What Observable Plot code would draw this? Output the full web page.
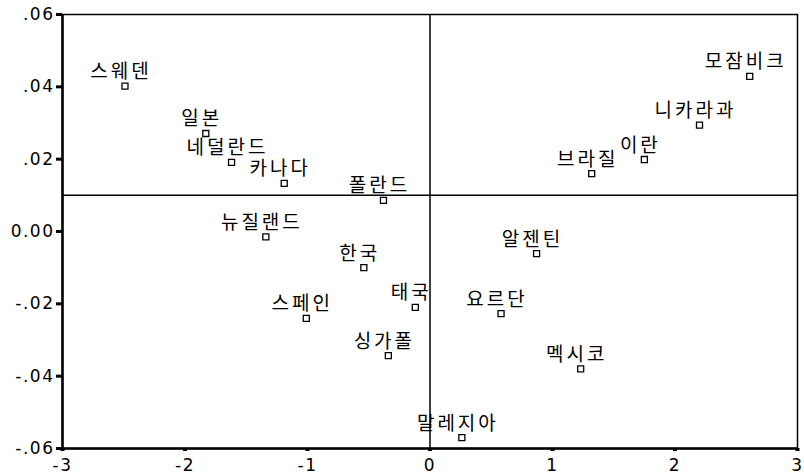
<!DOCTYPE html>
<html>
<head>
<meta charset="utf-8">
<script src="https://cdn.jsdelivr.net/npm/d3@7"></script>
<script src="https://cdn.jsdelivr.net/npm/@observablehq/plot@0.6"></script>
<style>
  html, body { margin: 0; padding: 0; background: #fff; }
  svg { display: block; }
</style>
</head>
<body>
<div id="chart"></div>
<script>
const countries = ["스웨덴", "일본", "네덜란드", "카나다", "폴란드", "뉴질랜드", "한국", "스페인", "싱가폴", "태국", "요르단", "알젠틴", "멕시코", "말레지아", "브라질", "이란", "니카라과", "모잠비크"];
const xValues = [-2.49, -1.83, -1.62, -1.19, -0.38, -1.34, -0.54, -1.01, -0.34, -0.12, 0.58, 0.87, 1.23, 0.26, 1.32, 1.75, 2.20, 2.61];
const yValues = [0.0402, 0.0271, 0.0191, 0.0133, 0.0086, -0.0015, -0.0100, -0.0240, -0.0343, -0.0210, -0.0227, -0.0061, -0.0380, -0.0570, 0.0160, 0.0199, 0.0294, 0.0429];
const xTicks = [-3, -2, -1, 0, 1, 2, 3];
const yTicks = [-0.06, -0.04, -0.02, 0, 0.02, 0.04, 0.06];
const refX = 0;
const refY = 0.01;

const data = countries.map((c, i) => ({name: c, x: xValues[i], y: yValues[i]}));

const fmtY = v => {
  if (Math.abs(v) < 1e-9) return "0.00";
  const s = Math.abs(v).toFixed(2).replace(/^0/, "");
  return (v < 0 ? "-" : "") + s;
};
const fmtX = v => (v < 0 ? "-" : "") + Math.abs(v);

const chart = Plot.plot({
  width: 804,
  height: 474,
  marginLeft: 62,
  marginRight: 7,
  marginTop: 14,
  marginBottom: 26,
  style: {fontFamily: "'DejaVu Sans', sans-serif", fontSize: "17px", color: "#000", background: "#fff"},
  x: {domain: [-3, 3], ticks: xTicks, tickFormat: fmtX, label: null},
  y: {domain: [-0.06, 0.06], ticks: yTicks, tickFormat: fmtY, label: null},
  marks: [
    Plot.frame({stroke: "#000", strokeWidth: 1.5}),
    Plot.ruleX([-3], {stroke: "#000", strokeWidth: 2.5}),
    Plot.ruleY([-0.06], {stroke: "#000", strokeWidth: 2.5}),
    Plot.ruleX([refX], {stroke: "#000", strokeWidth: 1.5}),
    Plot.ruleY([refY], {stroke: "#000", strokeWidth: 1.5}),
    Plot.axisY({ticks: yTicks, tickFormat: fmtY, tickSize: 6, tickPadding: 2, strokeWidth: 3, fontSize: 17, label: null}),
    Plot.axisX({ticks: xTicks, tickFormat: fmtX, tickSize: 3, tickPadding: 7, strokeWidth: 4, fontSize: 17, label: null}),
    Plot.dot(data, {x: "x", y: "y", symbol: "square", r: 3.4, stroke: "#000", strokeWidth: 1.3, fill: "#fff"}),
    Plot.text(data, {x: "x", y: "y", text: "name", dx: -4, dy: -8, lineAnchor: "bottom", textAnchor: "middle",
      fontFamily: "'Noto Sans CJK KR', sans-serif", fontSize: 19, fill: "#000"})
  ]
});
const svg = d3.select(chart);
svg.selectAll("g[aria-label='text'] text").attr("letter-spacing", 3);
svg.selectAll("g[aria-label='y-axis tick label'] text, g[aria-label='x-axis tick label'] text").attr("letter-spacing", 1.5);
document.getElementById("chart").appendChild(chart);
</script>
</body>
</html>
